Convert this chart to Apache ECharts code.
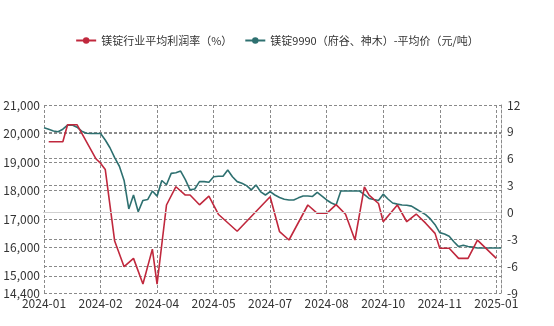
<!DOCTYPE html>
<html>
<head>
<meta charset="utf-8">
<script src="https://cdn.jsdelivr.net/npm/echarts@6/dist/echarts.min.js"></script>
<style>
html,body{margin:0;padding:0;background:#fff;}
#c{width:554px;height:326px;}
</style>
</head>
<body>
<div id="c"></div>
<script>
// x-axis tick labels, one every 12 categories
const tickLabels = ['2024-01','2024-02','2024-04','2024-05','2024-07','2024-08','2024-10','2024-11','2025-01'];
const pointsPerLabel = 12;
const categoryCount = 98;

// 镁锭9990（府谷、神木）-平均价（元/吨）, one value per category
const priceValues = [
  20204,20150,20090,20060,20150,20290,20300,20220,20080,20010,
  20000,20000,20000,19770,19500,19150,18850,18350,17350,17840,
  17250,17650,17680,17980,17800,18350,18200,18600,18620,18680,
  18380,18020,18050,18310,18310,18290,18480,18500,18500,18720,
  18480,18310,18250,18170,18020,18190,17950,17840,17957,17840,
  17750,17690,17666,17666,17740,17807,17807,17790,17930,17800,
  17666,17560,17490,17980,17980,17980,17980,17980,17850,17720,
  17680,17650,17870,17700,17560,17520,17490,17480,17450,17350,
  17250,17150,17000,16800,16520,16470,16390,16200,16030,16080,
  16030,16010,15980,15980,15980,15980,15980,15980
];

// 镁锭行业平均利润率（%）, sparse observations: [category index, value]
const profitIndex = [1,4,5,7,11,12,13,15,17,19,21,23,24,26,28,30,31,33,35,37,41,48,50,52,56,58,60,62,64,66,68,69,71,72,75,77,79,81,83,84,86,88,90,92,96];
const profitValues = [7.9,7.9,9.8,9.8,6.0,5.5,4.8,-3.2,-6.06,-5.13,-8.0,-4.1,-8.0,0.83,2.87,1.94,1.94,0.85,1.83,-0.2,-2.1,1.75,-2.15,-3.08,0.83,-0.1,-0.1,0.87,-0.2,-3.08,2.85,1.94,1.0,-1.04,0.83,-1.04,-0.18,-1.2,-2.34,-4.0,-4.0,-5.13,-5.13,-3.1,-5.13];

const leftMin = 14400, leftMax = 21000;
const rightMin = -9, rightMax = 12, rightStep = 3;

const categories = [];
for (let i = 0; i < categoryCount; i++) {
  categories.push(i % pointsPerLabel === 0 ? (tickLabels[i / pointsPerLabel] || '') : '');
}
const profitSeries = new Array(categoryCount).fill(null);
profitIndex.forEach((idx, k) => { profitSeries[idx] = profitValues[k]; });

const gridLine = {show: true, lineStyle: {color: '#8a8a8a', type: [3, 2], width: 1}};
const font = '"Noto Sans CJK SC", "Noto Sans", sans-serif';

const chart = echarts.init(document.getElementById('c'), null, {renderer: 'canvas'});
chart.setOption({
  animation: false,
  backgroundColor: '#fff',
  textStyle: {fontFamily: font},
  legend: {
    top: 30, left: 'center',
    itemWidth: 20, itemHeight: 8, itemGap: 12,
    textStyle: {fontSize: 11, color: '#333', fontFamily: font},
    data: ['镁锭行业平均利润率（%）', '镁锭9990（府谷、神木）-平均价（元/吨）']
  },
  grid: {left: 44, right: 53, top: 105, bottom: 33, containLabel: false},
  xAxis: {
    type: 'category', data: categories, boundaryGap: false,
    axisLine: {show: true, lineStyle: {color: '#8a8a8a', type: [3, 2]}},
    axisTick: {show: false},
    axisLabel: {interval: pointsPerLabel - 1, color: '#333', fontSize: 12, margin: 4, fontFamily: font},
    splitLine: Object.assign({interval: pointsPerLabel - 1}, gridLine)
  },
  yAxis: [
    {
      type: 'value', min: leftMin, max: leftMax, splitNumber: 6,
      axisLine: {show: false}, axisTick: {show: false},
      axisLabel: {color: '#333', fontSize: 12, margin: 4, showMinLabel: true, showMaxLabel: true,
        formatter: v => v.toLocaleString('en-US'), fontFamily: font},
      splitLine: gridLine
    },
    {
      type: 'value', min: rightMin, max: rightMax, interval: rightStep, position: 'right',
      axisLine: {show: true, lineStyle: {color: '#8a8a8a', type: [3, 2]}}, axisTick: {show: false},
      axisLabel: {color: '#333', fontSize: 12, margin: 6, fontFamily: font},
      splitLine: gridLine
    }
  ],
  series: [
    {
      name: '镁锭行业平均利润率（%）', type: 'line', yAxisIndex: 1,
      data: profitSeries, connectNulls: true, showSymbol: false, symbol: 'circle', symbolSize: 7,
      color: '#c0283d', lineStyle: {width: 1.6, color: '#c0283d'}, z: 3,
      markLine: {silent: true, symbol: 'none', label: {show: false},
        lineStyle: {color: '#d0d0d0', type: 'solid', width: 1.2},
        data: [{yAxis: 0}]}
    },
    {
      name: '镁锭9990（府谷、神木）-平均价（元/吨）', type: 'line', yAxisIndex: 0,
      data: priceValues, showSymbol: false, symbol: 'circle', symbolSize: 7,
      color: '#2e7070', lineStyle: {width: 1.6, color: '#2e7070'}, z: 2
    }
  ]
});
</script>
</body>
</html>
